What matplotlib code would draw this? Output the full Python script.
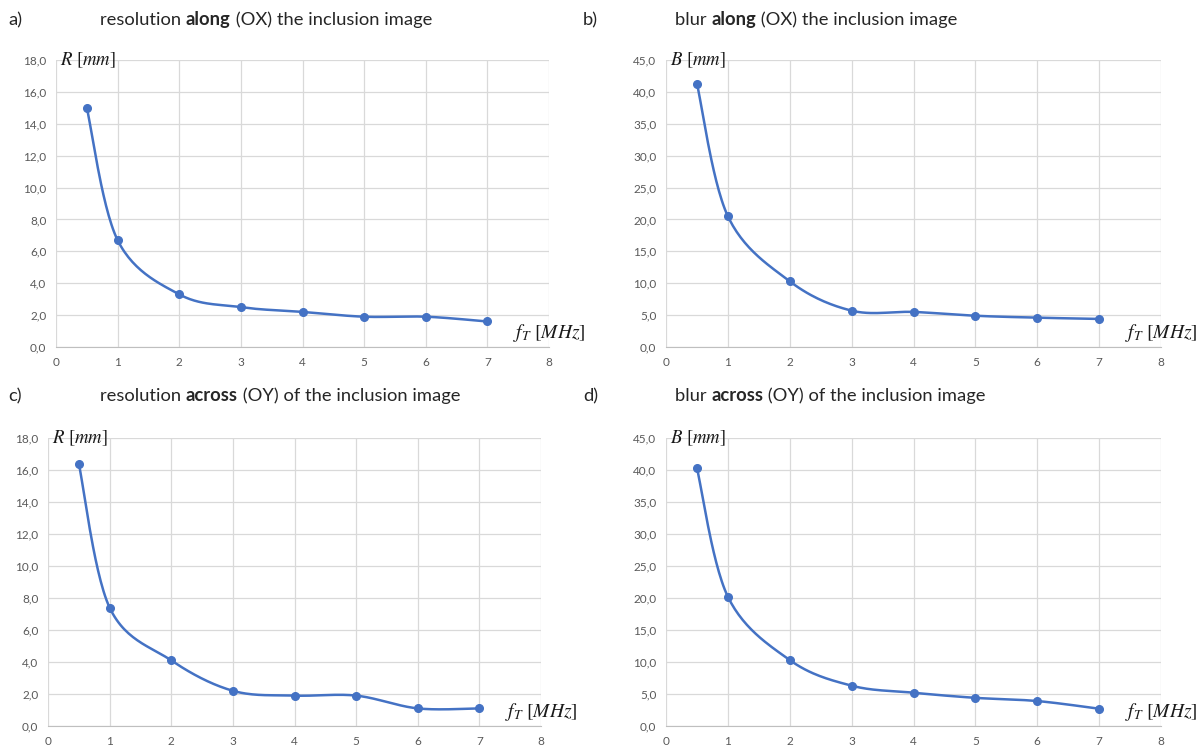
import numpy as np
import matplotlib
matplotlib.use("Agg")
import matplotlib.pyplot as plt
from matplotlib.ticker import FuncFormatter

plt.rcParams['font.family'] = ['Lato', 'DejaVu Sans']
plt.rcParams['mathtext.fontset'] = 'stix'

# data
freq = [0.5, 1, 2, 3, 4, 5, 6, 7]
res_along = [15.0, 6.7, 3.3, 2.5, 2.2, 1.9, 1.9, 1.6]
blur_along = [41.3, 20.5, 10.3, 5.7, 5.5, 4.9, 4.6, 4.4]
res_across = [16.4, 7.4, 4.1, 2.2, 1.9, 1.9, 1.1, 1.1]
blur_across = [40.3, 20.2, 10.3, 6.3, 5.2, 4.4, 3.9, 2.7]

W, H = 1197, 752
BLUE = "#4472C4"
GRID = "#D9D9D9"
TICK = "#595959"


def smooth(x, y, n=30):
    # excel-like smoothed line: cubic bezier through the points
    x = np.asarray(x, float); y = np.asarray(y, float)
    px = np.concatenate([[x[0]], x, [x[-1]]])
    py = np.concatenate([[y[0]], y, [y[-1]]])
    t = np.linspace(0, 1, n)[:, None]
    xs, ys = [], []
    for i in range(1, len(px) - 2):
        p0 = np.array([px[i], py[i]]); p3 = np.array([px[i + 1], py[i + 1]])
        c1 = p0 + (np.array([px[i + 1], py[i + 1]]) - np.array([px[i - 1], py[i - 1]])) / 6
        c2 = p3 - (np.array([px[i + 2], py[i + 2]]) - np.array([px[i], py[i]])) / 6
        b = ((1 - t) ** 3) * p0 + 3 * ((1 - t) ** 2) * t * c1 + 3 * (1 - t) * t ** 2 * c2 + t ** 3 * p3
        xs.append(b[:, 0]); ys.append(b[:, 1])
    return np.concatenate(xs), np.concatenate(ys)


def rect(l, r, t, b):
    return [l / W, 1 - b / H, (r - l) / W, (b - t) / H]


def title(fig, x, y, parts, size=13.2):
    # draw mixed regular / bold text pieces one after another
    r = fig.canvas.get_renderer()
    cx = x
    for s, w in parts:
        tx = fig.text(cx / W, 1 - y / H, s, fontsize=size, fontweight=w,
                      color="#262626", va="center", ha="left")
        bb = tx.get_window_extent(renderer=r)
        cx += bb.width


def panel(fig, box, y, ymax, ystep, ylab):
    ax = fig.add_axes(rect(*box))
    xs, ys = smooth(freq, y)
    ax.plot(xs, ys, color=BLUE, lw=1.8, solid_capstyle="round")
    ax.plot(freq, y, "o", color=BLUE, ms=5.5)
    ax.set_xlim(0, 8)
    ax.set_ylim(0, ymax)
    ax.set_xticks(range(0, 9))
    ax.set_yticks(np.arange(0, ymax + 0.01, ystep))
    ax.yaxis.set_major_formatter(FuncFormatter(lambda v, p: f"{v:.1f}".replace(".", ",")))
    ax.grid(True, color=GRID, lw=0.9)
    ax.set_axisbelow(True)
    for s in ["top", "right", "left"]:
        ax.spines[s].set_visible(False)
    ax.spines["bottom"].set_color("#BFBFBF")
    ax.tick_params(length=0, labelsize=8.5, labelcolor=TICK, pad=7)
    ax.text(0.06, ymax, ylab, fontsize=13.5, va="center", ha="left", color="#1a1a1a")
    ax.text(8.6, ymax * 0.05, r"$f_T\ [MHz]$", fontsize=14, va="center", ha="right",
            color="#1a1a1a", clip_on=False)
    return ax


fig = plt.figure(figsize=(W / 100, H / 100), dpi=100)
fig.patch.set_facecolor("white")

panel(fig, (56, 549, 60, 347), res_along, 18, 2, r"$R\ [mm]$")
panel(fig, (666, 1161, 60, 347), blur_along, 45, 5, r"$B\ [mm]$")
panel(fig, (48, 541, 438, 726), res_across, 18, 2, r"$R\ [mm]$")
panel(fig, (666, 1161, 438, 726), blur_across, 45, 5, r"$B\ [mm]$")

for lab, x, y in [("a)", 8, 20), ("b)", 583, 20), ("c)", 8, 396), ("d)", 583, 396)]:
    fig.text(x / W, 1 - y / H, lab, fontsize=13.2, va="center", color="#262626")

title(fig, 100, 20, [("resolution ", "normal"), ("along", "bold"), (" (OX) the inclusion image", "normal")])
title(fig, 675, 20, [("blur ", "normal"), ("along", "bold"), (" (OX) the inclusion image", "normal")])
title(fig, 100, 396, [("resolution ", "normal"), ("across", "bold"), (" (OY) of the inclusion image", "normal")])
title(fig, 675, 396, [("blur ", "normal"), ("across", "bold"), (" (OY) of the inclusion image", "normal")])

fig.savefig("out.png", dpi=100)
